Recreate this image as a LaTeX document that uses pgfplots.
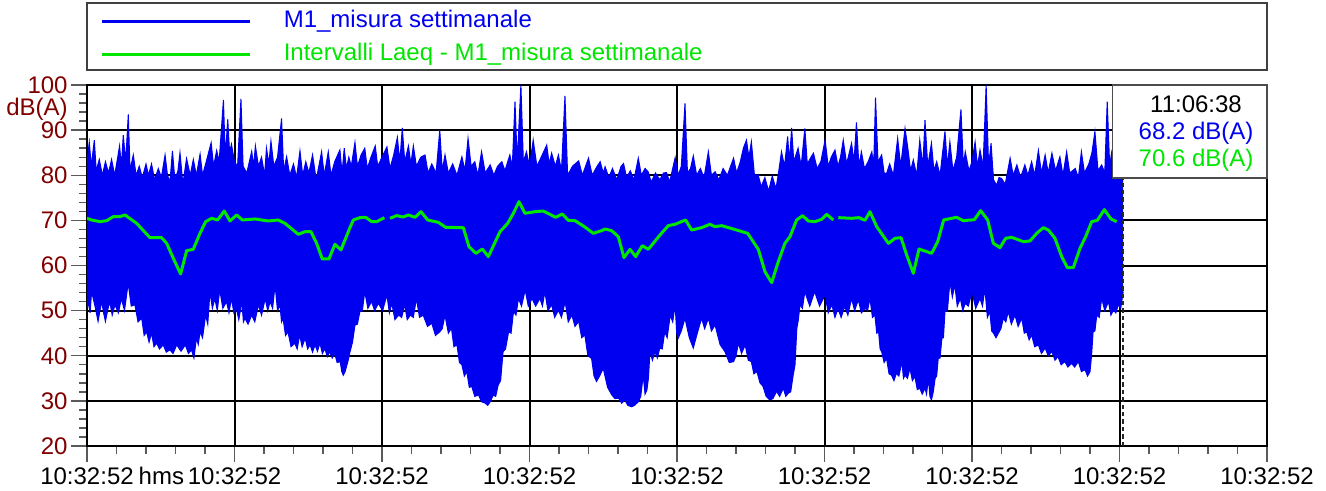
\documentclass[border=0pt]{standalone}
\usepackage{pgfplots}
\pgfplotsset{compat=1.18}
\usepgfplotslibrary{fillbetween}
\usepackage{fontspec}
\setmainfont{Liberation Sans}
\definecolor{dblue}{RGB}{0,0,240}
\definecolor{lgreen}{RGB}{0,230,0}
\definecolor{dred}{RGB}{128,0,0}
\definecolor{tickgray}{RGB}{90,90,90}
\begin{document}
\begin{tikzpicture}[font=\fontsize{12}{14}\selectfont]
\path (0,0) rectangle (663pt,245pt);
\begin{axis}[
  at={(43.5pt,22pt)}, anchor=south west,
  width=590pt, height=180.5pt, scale only axis,
  xmin=0, xmax=192, ymin=20, ymax=100,
  xtick={0,24,48,72,96,120,144,168,192},
  xticklabels={10:32:52\rlap{\hspace{2.5pt}hms},10:32:52,10:32:52,10:32:52,10:32:52,10:32:52,10:32:52,10:32:52,10:32:52},
  minor x tick num=4,
  ytick={20,30,40,50,60,70,80,90,100},
  minor y tick num=4,
  xtick pos=lower, ytick pos=left,
  tick align=outside,
  major tick length=8pt, minor tick length=4pt,
  tick style={tickgray, line width=0.7pt},
  grid=major,
  major grid style={black, line width=1pt},
  axis line style={black, line width=1pt},
  xticklabel style={font=\fontsize{12}{14}\selectfont, inner ysep=2.5pt, text=black},
  yticklabel style={font=\fontsize{12}{14}\selectfont, text=dred, inner xsep=1.5pt},
  /pgf/number format/assume math mode=true,
  unbounded coords=jump,
]
\addplot[name path=U, draw=dblue, line width=0.5pt] coordinates {
(0,83) (0.37,87.3) (0.7,82) (1.19,87.8) (1.5,81) (2.0,83.5) (2.5,80) (3.0,83) (3.5,80.5) (4.0,83.5) (4.5,80) (5.0,84) (5.3,86.5) (5.6,82) (5.9,88.9) (6.3,83) (6.72,93.5) (7.0,81) (7.53,84.5) (8.0,80) (8.5,82) (9.0,79.5) (9.6,82.5) (10.0,80) (10.5,82.5) (11.0,79) (11.6,81.5) (12.1,79.5) (12.7,84.5) (13.1,80) (13.5,78.5) (13.9,85.4) (14.3,79) (14.8,81) (15.13,85) (15.6,78) (16.2,83.7) (16.8,80) (17.3,83.5) (17.8,80) (18.4,84.7) (18.8,80) (19.4,83) (20.2,87.2) (20.6,82) (21.1,85.5) (21.5,83) (22.2,96.7) (22.5,84) (22.9,92.4) (23.2,85) (23.5,86.9) (24.0,83) (24.5,82) (25.05,96.9) (25.4,82) (26.0,80.5) (26.8,85.3) (27.1,82) (27.4,86.5) (27.9,82) (28.4,84) (28.9,80) (29.2,86) (29.6,82.5) (29.93,87.6) (30.4,82) (31.0,84) (31.66,92.6) (32.0,81) (32.48,84.1) (33.0,80) (33.6,82.5) (34.1,79.5) (34.65,85.4) (35.1,80) (35.6,83) (36.1,80.5) (36.7,84.5) (37.3,79) (38.17,85.2) (38.6,80) (39.26,85.2) (39.7,80) (40.3,83) (41.15,85.6) (41.5,80.5) (41.86,86) (42.2,81.5)
(42.6,84) (43.0,82) (43.6,87.3) (44.0,82) (44.6,84.5) (45.2,86) (45.6,81.5) (46.2,84) (46.9,86.5) (47.3,82) (48.0,84) (48.8,86.3) (49.3,81.5) (49.9,84.5) (50.5,88.4) (50.9,83) (51.3,90.5) (51.7,83) (52.3,86.5) (52.7,82.5) (53.1,86.5) (53.6,82) (54.3,84) (55.0,84.5) (55.5,80.5) (56.1,82.5) (56.8,80.5) (57.4,90.0) (57.8,81) (58.25,84.5) (58.8,80.5) (59.5,82.5) (60.2,80) (61.0,84.1) (61.5,81) (62.0,88.2) (62.5,82) (63.1,83) (63.6,80) (64.2,85.2) (64.8,80.5) (65.6,82.3) (66.2,80) (66.8,82) (67.5,83) (68.0,81) (68.8,84.5) (69.2,82) (69.64,96.3) (70.0,83) (70.6,100) (71.0,83) (71.5,85.2) (72.0,82) (72.6,87.8) (73.2,82) (73.9,84) (74.8,86.7) (75.2,82.5) (75.6,84.9) (76.2,82) (76.7,84.5) (77.2,81) (77.77,97.6) (78.2,80) (79.0,82) (80.0,83.2) (80.6,80) (81.6,83.8) (82.2,80) (83.0,82) (83.5,83) (84.0,80.5)
(84.3,81.9) (84.9,79.5) (85.5,81.5) (86.2,79) (86.9,82) (87.3,82.6) (87.8,79.5) (88.4,81) (89.0,79) (89.7,83.8) (90.2,80) (90.8,81.5) (91.3,80.8) (91.8,78.5) (92.5,80.5) (93.2,79) (93.8,80.5) (94.3,80.6) (94.8,78.5) (95.7,83.9) (96.2,80) (96.7,82) (97.3,95.9) (97.7,80.5) (98.2,81.5) (98.65,84.3) (99.2,80) (99.8,81.5) (100.4,79.5) (101.1,85.2) (101.6,80) (102.2,80.8) (102.8,79) (103.5,81.5) (104.2,80) (105.2,83.8) (105.7,80.5) (106.3,83) (106.8,86) (107.3,87.8) (107.7,84) (108.1,87.4) (108.6,80) (109.2,80.1) (109.7,77.5) (110.3,79.5) (110.9,76.5) (111.5,79.8) (112.1,77) (112.5,80.4) (113.0,85.2) (113.5,82) (114.0,88.6) (114.3,83) (114.65,90.5) (115.0,83) (115.7,86) (116.2,82) (116.8,90.4) (117.2,82.5) (117.8,84) (118.2,84.9) (118.8,81.5) (119.4,83) (120.1,87.8) (120.6,82) (121.1,84) (121.7,85.6) (122.2,82) (122.6,84) (123.05,87.8) (123.6,82.5) (124.4,87.1) (124.8,83) (125.2,91.7) (125.6,82) (126.0,85.2) (126.5,81.5) (127.1,83)
(127.7,85.2) (128.0,82) (128.3,97.2) (128.7,83) (129.3,84.5) (129.7,80.5) (130.1,80.4) (130.6,82.5) (131.2,80) (131.9,88.2) (132.4,82) (133.1,90.4) (133.6,85.6) (134.0,81) (134.45,83.4) (135.0,80) (135.5,87.8) (136.0,82) (136.35,92.2) (136.8,82) (137.4,87.1) (137.8,81) (138.25,83) (138.8,80) (139.6,89.7) (140.0,82) (140.4,87.4) (140.9,81) (141.5,84) (142.2,94.6) (142.6,82) (142.9,85.2) (143.5,81) (144.0,83) (144.5,87.4) (144.9,82) (145.3,85.6) (145.8,82) (146.3,100) (146.7,82) (147.1,87.1) (147.5,79) (148.0,77.8) (148.4,79.5) (148.8,79.3) (149.4,78) (150.2,83.8) (150.7,80) (151.3,82.3) (151.9,79.5) (152.6,82.3) (153.1,80) (153.7,83) (154.2,80) (154.8,85.5) (155.3,80.5) (155.9,84.5) (156.4,80.5) (157.0,84.9) (157.6,81) (158.3,84.1) (158.8,80) (159.4,85.2) (159.9,80.5) (160.8,81.5) (161.3,79.5) (161.8,85.2) (162.3,80.5) (163.0,82.5) (163.5,84.9) (164.0,89.7) (164.5,81) (165.1,82.3) (165.6,80.5) (166.0,96.3) (166.4,82) (166.7,84.9) (167.1,80) (167.3,79.3) (168.0,81) (168.6,79)
};
\addplot[name path=L, draw=dblue, line width=0.5pt] coordinates {
(0,53.5) (0.1,50.5) (0.2,52.7) (0.5,49.5) (0.75,54.2) (1.3,51) (1.8,47.6) (2.1,50) (2.4,52) (2.7,49.5) (3.0,47.6) (3.35,50) (3.7,52) (4.1,49) (4.55,51.3) (5.1,49.5) (5.6,52.7) (6.1,50) (6.7,56.1) (7.2,51) (7.8,51.3) (8.3,47.5) (8.9,48.3) (9.3,44.5) (9.7,45.3) (10.1,43) (10.5,45) (10.9,42) (11.3,42.8) (11.8,41.5) (12.4,42.4) (12.9,40.8) (13.5,41.3) (14.0,40.5) (14.6,42.4) (15.3,41) (16.0,42.4) (16.5,40.5) (17.0,41.3) (17.4,39.5) (17.8,43.9) (18.1,42.5) (18.4,45.3) (18.8,44) (19.3,49) (19.65,47) (20.0,54.2) (20.4,50.5) (20.8,52.7) (21.2,50) (21.6,54.6) (22.1,50.5) (22.7,52) (23.1,49.5) (23.5,52.7) (23.9,49.5) (24.3,50.5) (24.7,48) (25.2,52) (25.45,47.5) (25.7,48.3) (26.2,47) (26.8,49) (27.3,47.5) (27.9,51.3) (28.4,49) (29.0,52.7) (29.4,50) (29.8,52) (30.2,50.5) (30.6,55.7) (31.0,50) (31.4,51.3) (31.65,47.5) (31.9,48.3) (32.3,44.5) (32.7,45.3) (33.2,42) (33.8,42.8) (34.2,41.5) (34.6,44.6) (35.0,42) (35.5,43.9) (35.9,41.5) (36.3,42.4) (36.7,40.8) (37.1,42.4) (37.5,41) (37.9,42.8) (38.3,40.5) (38.7,41.6) (39.1,39.8) (39.5,40.9) (39.9,39.5) (40.3,40.5) (40.7,38.5) (41.2,38.7) (41.45,36.5) (41.7,35.7) (42.0,36.5) (42.2,37.5) (42.5,39) (42.8,40.9) (43.2,43) (43.6,46.8) (44.0,47) (44.4,49.8) (44.8,50) (45.2,54.2) (45.7,50.5) (46.3,52) (46.8,50) (47.4,51.6) (48.1,50) (48.8,53.5) (49.2,49.5) (49.6,51.6) (50.1,48) (50.7,49) (51.2,48.5) (51.7,51.3) (52.1,48) (52.6,49) (53.1,48.5) (53.6,52.7) (54.1,48.5) (54.7,49) (55.4,46.5) (56.1,47.2) (56.7,44.5) (57.4,45.3) (57.8,46) (58.25,49) (58.8,45) (59.3,46.1) (59.7,42) (60.2,42.4) (60.6,38.5) (61.0,38) (61.4,35.5) (61.8,36.5) (62.2,33) (62.6,33.2) (63.1,31) (63.7,31.3) (64.2,29.8) (64.8,29.5) (65.2,29) (65.6,29.8) (66.1,31.3) (66.5,31) (66.9,33.5) (67.3,34.5) (67.7,40.9) (68.1,41.5) (68.6,45.3) (69.0,45) (69.4,49.8) (69.8,49) (70.2,52.7) (70.7,51) (71.3,54.6) (71.8,51) (72.4,52.7) (73.0,51) (73.7,52.7) (74.1,51) (74.5,54.2) (75.0,50) (75.6,51.3) (76.1,48.5) (76.7,50.1) (77.2,48.5) (77.8,52) (78.3,47.5) (78.9,49) (79.4,46.5) (80.0,47.6) (80.5,44) (81.0,44.6) (81.5,40) (82.1,39.4) (82.5,35.5) (82.9,34.3) (83.4,35.5) (84.0,37.2) (84.7,33) (85.4,31.3) (85.9,30.5) (86.5,30.6) (87.0,29.5) (87.5,30.2) (88.0,29) (88.6,28.7) (89.1,29) (89.7,29.8) (90.1,31) (90.5,35.7) (90.8,31.5) (91.1,32.4) (91.35,35) (91.6,40.9) (92.0,39) (92.4,40.9) (92.8,39.5) (93.2,41.7) (93.6,41.5) (94.0,45.3) (94.4,44) (94.9,49) (95.3,47.5) (95.7,51.3) (95.95,45) (96.2,43.9) (96.7,45.5) (97.3,48.3) (98.0,44) (98.65,41.7) (99.3,45) (100.0,48.3) (100.5,46) (101.1,48.3) (101.6,45.5) (102.2,46.8) (103.0,42.5) (103.8,40.9) (104.5,38.5) (105.2,38.7) (105.6,40) (106.0,42.8) (106.5,40.5) (107.1,42.4) (107.6,39) (108.1,38.7) (108.5,36) (109.0,36.5) (109.5,34) (110.0,33.2) (110.5,31) (111.1,30.2) (111.6,30.5) (112.2,32.1) (112.7,31) (113.3,32.8) (113.7,31) (114.1,31.7) (114.5,32) (114.9,35.7) (115.2,38) (115.5,46.1) (115.75,48) (116.0,51.3) (116.4,50.5) (116.8,54.2) (117.6,51) (118.4,54.2) (119.2,51) (120.1,53.5) (120.6,49.5) (121.2,51.3) (121.7,48.5) (122.2,50.5) (122.7,48.5) (123.3,50.9) (123.8,49) (124.4,52.7) (124.9,50) (125.5,52.4) (126.0,49.5) (126.6,50.5) (127.0,50) (127.4,52.7) (127.8,48.5) (128.2,49) (128.5,45) (128.8,45.3) (129.05,41.5) (129.3,40.9) (129.7,38.5) (130.1,39.4) (130.5,36) (130.9,35.7) (131.3,34.5) (131.7,36.1) (132.1,35.5) (132.6,38.7) (132.85,35) (133.1,35.7) (133.5,35) (133.9,37.2) (134.3,34.5) (134.7,35.4) (135.1,32.5) (135.5,32.8) (135.9,31.5) (136.35,32.8) (136.6,31.5) (136.9,35) (137.15,31) (137.4,30.2) (137.7,32) (138.0,35) (138.25,35.5) (138.5,39.4) (138.8,39.5) (139.1,43.9) (139.35,44) (139.6,49.8) (140.0,50) (140.4,56.4) (140.8,53) (141.2,55.7) (141.6,51) (142.1,52.7) (142.5,50) (142.9,51.6) (143.4,51) (144.0,54.2) (144.6,50.5) (145.3,52.7) (145.7,51) (146.1,54.9) (146.5,48.5) (146.9,49.8) (147.2,45.5) (147.5,45) (147.9,44) (148.3,45) (148.7,46) (149.1,48.3) (149.5,47.5) (149.9,49.8) (150.4,47) (151.0,49) (151.5,46.5) (152.1,48.3) (152.5,45) (152.9,45.3) (153.3,43.5) (153.7,44.6) (154.2,42) (154.8,42.4) (155.3,40.5) (155.9,41.7) (156.4,40) (157.0,40.9) (157.5,39) (158.0,39.8) (158.5,38) (159.1,38.7) (159.6,37.5) (160.2,38.3) (160.7,37.5) (161.3,38.7) (161.8,36.5) (162.4,36.9) (162.8,35.5) (163.2,36.5) (163.45,40) (163.7,45.3) (164.0,45.5) (164.3,49) (164.7,48.5) (165.1,52.7) (165.6,50) (166.2,52) (166.6,49) (167.0,50.1) (167.4,49.5) (167.8,51.3) (168.2,50.5) (168.6,54.2)
};
\addplot[fill=dblue, draw=none] fill between[of=U and L];
\addplot[lgreen, line width=1.5pt, line join=round] coordinates {
(0,70.46) (0.75,70.09) (2.11,69.72) (3.2,69.94) (4.28,70.83) (5.36,70.83) (6.18,71.2) (8.08,69.35) (10.24,66.17) (12.14,66.17) (12.96,64.92) (14.04,61.6) (15.23,58.12) (16.21,63.29) (17.29,63.59) (18.38,67.13) (19.3,69.72) (20.28,70.46) (21.25,70.09) (22.34,72.08) (23.26,69.87) (24.35,71.2) (25.27,70.09) (27.33,70.31) (29.5,69.87) (31.12,70.09) (32.21,69.35) (34.38,66.91) (35.46,67.5) (36.44,67.5) (37.36,64.92) (38.28,61.45) (39.37,61.45) (40.34,64.7) (41.32,63.44) (42.78,68.39) (43.34,70.09) (44.42,70.61) (45.34,70.68) (46.32,69.72) (47.13,69.72) (48.38,70.61) (48.8,nan) (49.3,70.46) (50.39,71.05) (51.47,70.75) (52.28,71.2) (53.37,70.68) (54.34,71.93) (55.43,70.09) (57.16,69.57) (58.36,68.46) (61.23,68.39) (62.15,64.18) (63.29,62.7) (64.32,63.66) (65.3,61.97) (67.2,67.5) (68.44,69.35) (69.37,71.57) (70.29,74.15) (71.26,71.57) (72.89,71.93) (74.25,72.08) (76.25,70.68) (77.34,71.42) (78.31,70.01) (79.4,69.94) (80.92,68.61) (82.38,67.13) (83.74,67.73) (84.28,68.09) (85.36,67.73) (86.45,66.4) (87.37,61.74) (88.35,63.59) (89.27,61.97) (90.35,64.4) (91.33,63.59) (93.23,66.77) (94.58,68.83) (95.67,69.13) (97.4,70.09) (98.38,67.87) (100.01,68.39) (101.36,69.13) (102.18,68.61) (103.26,68.83) (105.16,68.09) (107.49,67.13) (109.23,63.59) (110.31,58.64) (111.4,56.2) (112.48,60.86) (113.56,64.92) (114.38,66.4) (115.46,70.09) (116.44,71.05) (117.36,69.87) (118.44,69.72) (119.53,70.24) (120.34,71.34) (121.43,70.09) (121.8,nan) (122.24,70.61) (124.41,70.46) (125.6,70.61) (126.58,70.01) (127.4,71.93) (128.49,68.61) (130.39,64.92) (131.47,66.03) (132.45,66.17) (133.37,62.33) (134.45,58.27) (135.38,63.66) (137.43,62.7) (138.41,65.29) (139.39,70.09) (141.5,70.68) (142.59,69.94) (144.38,70.16) (145.41,72.16) (146.55,70.09) (147.47,64.92) (148.55,63.96) (149.48,66.03) (150.45,66.25) (152.35,65.29) (153.43,65.44) (154.52,67.13) (155.6,68.39) (156.42,67.87) (157.5,66.03) (158.59,61.97) (159.51,59.53) (160.48,59.53) (161.57,63.81) (162.49,66.4) (163.47,69.72) (164.39,70.01) (165.53,72.38) (166.61,70.31) (167.53,69.72)
};
\end{axis}
% cursor read-out
\draw[gray!30!black, dash pattern=on 2.2pt off 1.5pt, line width=0.6pt] (561.5pt,22pt) -- (561.5pt,156pt);
\draw[fill=white, draw=gray!60!black, line width=0.6pt] (556.25pt,156pt) rectangle (633.5pt,202.5pt);
\node[anchor=base, inner sep=0] at (598pt,188.7pt) {11:06:38};
\node[anchor=base, inner sep=0, text=dblue] at (598pt,175.3pt) {68.2 dB(A)};
\node[anchor=base, inner sep=0, text=lgreen] at (598pt,161.7pt) {70.6 dB(A)};
% unit label
\node[anchor=base east, inner sep=0, text=dred] at (34pt,187.5pt) {dB(A)};
% legend
\draw[gray!50!black, line width=0.6pt] (43.5pt,210pt) rectangle (633.5pt,243.5pt);
\draw[dblue, line width=1.5pt] (50.8pt,234.2pt) -- (125pt,234.2pt);
\node[anchor=base west, inner sep=0, text=dblue] at (141.7pt,231.5pt) {M1\_misura settimanale};
\draw[lgreen, line width=1.5pt] (50.8pt,218pt) -- (125pt,218pt);
\node[anchor=base west, inner sep=0, text=lgreen] at (141.7pt,215pt) {Intervalli Laeq - M1\_misura settimanale};
\end{tikzpicture}
\end{document}
